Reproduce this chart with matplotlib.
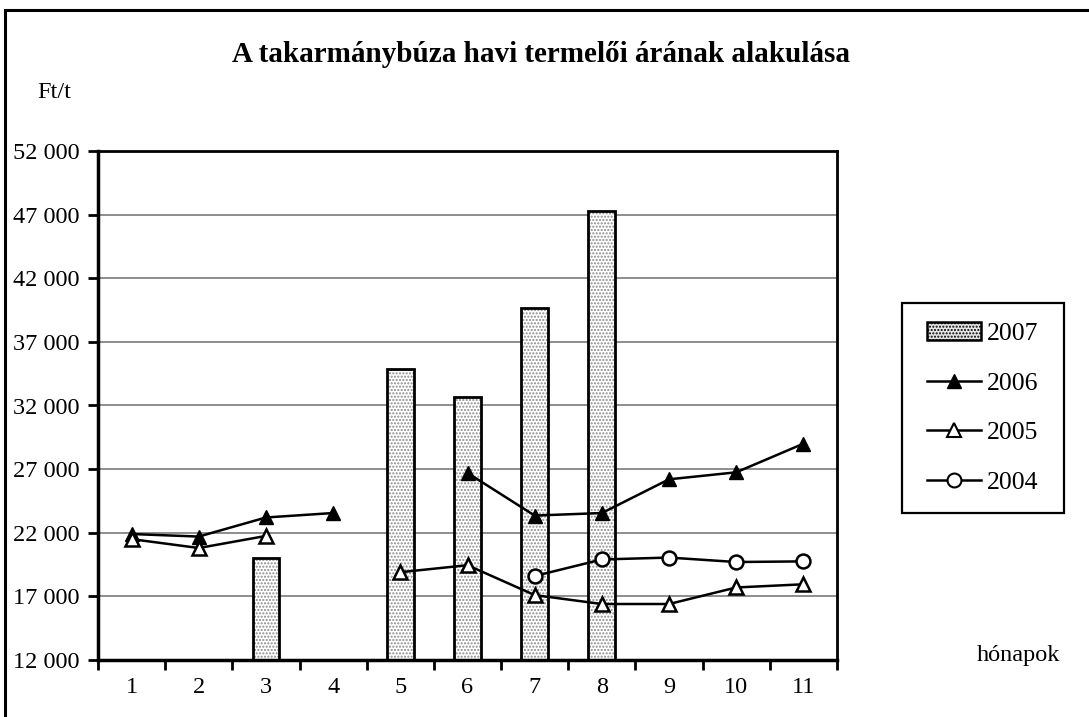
import numpy as np
import matplotlib
matplotlib.use("Agg")
import matplotlib.pyplot as plt
from matplotlib.patches import Rectangle, Patch
from matplotlib.lines import Line2D

plt.rcParams['font.family'] = ['Liberation Serif', 'DejaVu Serif']

months = [1, 2, 3, 4, 5, 6, 7, 8, 9, 10, 11]
nan = np.nan
y2007 = [nan, nan, 20000, nan, 34900, 32650, 39700, 47250, nan, nan, nan]
y2006 = [21900, 21700, 23200, 23550, nan, 26700, 23350, 23550, 26200, 26750, 29000]
y2005 = [21500, 20800, 21750, nan, 18900, 19450, 17100, 16400, 16400, 17700, 17950]
y2004 = [nan, nan, nan, nan, nan, nan, 18600, 19900, 20050, 19700, 19750]
yticks = [12000, 17000, 22000, 27000, 32000, 37000, 42000, 47000, 52000]
ytick_labels = ["12 000", "17 000", "22 000", "27 000", "32 000", "37 000", "42 000", "47 000", "52 000"]

FS = 17.5

fig = plt.figure(figsize=(10.89, 7.17), dpi=100)
ax = fig.add_axes([98/1089, 1-660/717, (837-98)/1089, (660-151)/717])

x = np.array(months)
# bars: stipple layer + outline layer
ax.bar(x, np.array(y2007) - 12000, bottom=12000, width=0.4, facecolor='white',
       edgecolor='#8a8a8a', hatch='.....', linewidth=0, zorder=2)
ax.bar(x, np.array(y2007) - 12000, bottom=12000, width=0.4, fill=False,
       edgecolor='black', linewidth=2, zorder=3)

ax.plot(x, y2006, color='black', lw=1.8, marker='^', ms=10.5, mfc='black', mec='black', zorder=4)
ax.plot(x, y2005, color='black', lw=1.8, marker='^', ms=10.5, mfc='white', mec='black', mew=1.8, zorder=4)
ax.plot(x, y2004, color='black', lw=1.8, marker='o', ms=10, mfc='white', mec='black', mew=1.8, zorder=4)

ax.set_xlim(0.5, 11.5)
ax.set_ylim(12000, 52000)
ax.set_yticks(yticks)
ax.set_yticklabels(ytick_labels, fontsize=FS)
ax.set_xticks(np.arange(0.5, 12, 1))
ax.set_xticklabels([])
ax.set_xticks(x, minor=True)
ax.set_xticklabels([str(m) for m in months], minor=True, fontsize=FS)
ax.tick_params(axis='x', which='minor', length=0, pad=12)
ax.tick_params(axis='x', which='major', direction='out', length=7, width=2)
ax.tick_params(axis='y', direction='out', length=7, width=2, pad=6)
ax.yaxis.grid(True, color='#7a7a7a', lw=1.2, zorder=0)
ax.set_axisbelow(True)
for s in ['left', 'bottom']:
    ax.spines[s].set_linewidth(2.5)
for s in ['right', 'top']:
    ax.spines[s].set_linewidth(2.0)

fig.text(541/1089, 1-55/717, "A takarmánybúza havi termelői árának alakulása",
         ha='center', va='center', fontsize=21, fontweight='bold')
fig.text(54/1089, 1-93/717, "Ft/t", ha='center', va='center', fontsize=FS)
fig.text(1018/1089, 1-655/717, "hónapok", ha='center', va='center', fontsize=FS)

# figure border
fig.patches.append(Rectangle((5/1089, -0.01), 1.2, 1-10/717 + 0.01, transform=fig.transFigure,
                             fill=False, edgecolor='black', lw=2.2))
# legend box
fig.patches.append(Rectangle((902/1089, 1-513/717), (1064-902)/1089, (513-303)/717,
                             transform=fig.transFigure, fill=False, edgecolor='black', lw=1.6))

handles = [Patch(facecolor='#e6e6e6', edgecolor='black', hatch='.....', lw=1.8),
           Line2D([], [], color='black', lw=1.8, marker='^', ms=10, mfc='black'),
           Line2D([], [], color='black', lw=1.8, marker='^', ms=10, mfc='white', mew=1.5),
           Line2D([], [], color='black', lw=1.8, marker='o', ms=10, mfc='white', mew=1.5)]
leg = fig.legend(handles, ["2007", "2006", "2005", "2004"], loc='center',
                 bbox_to_anchor=(983/1089, 1-408/717), fontsize=18.5, frameon=False,
                 labelspacing=1.05, handlelength=2.1,
                 handletextpad=0.23, borderpad=0, borderaxespad=0)

fig.savefig("out.png", dpi=100)
